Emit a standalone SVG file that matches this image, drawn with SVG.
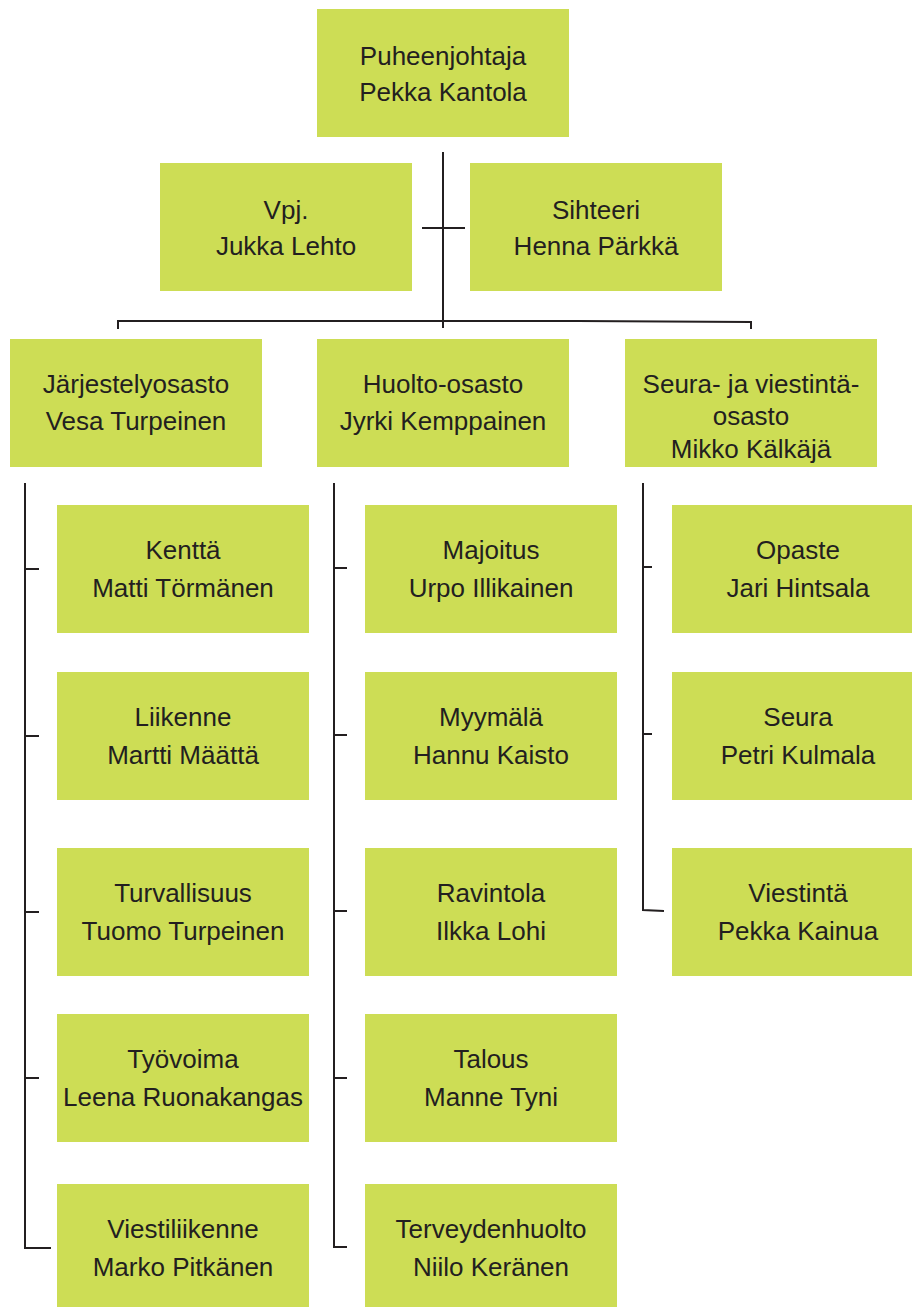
<svg xmlns="http://www.w3.org/2000/svg" width="912" height="1307" viewBox="0 0 912 1307">
<style>
.box{fill:#cddd55}
.t{font-family:"Liberation Sans",Arial,sans-serif;font-size:26px;fill:#231f20;text-anchor:middle}
.ln{stroke:#231f20;stroke-width:2;fill:none}
</style>
<rect width="912" height="1307" fill="#ffffff"/>
<g id="connectors">
<path class="ln" d="M443 152V328M422 228H465M118 329V321H443M443 321H577L751 322V329"/>
<path class="ln" d="M25 483V1248H51M25 569H39M25 736H39M25 912H39M25 1078H39"/>
<path class="ln" d="M334 483V1247H347M334 568H347M334 735H347M334 911H347M334 1078H347"/>
<path class="ln" d="M643 483V910L664 911M643 567H652M643 734H652"/>
</g>
<g id="n-puheenjohtaja"><rect class="box" x="317" y="9" width="252" height="128"/><text class="t" x="443" y="65">Puheenjohtaja</text><text class="t" x="443" y="101">Pekka Kantola</text></g>
<g id="n-vpj"><rect class="box" x="160" y="163" width="252" height="128"/><text class="t" x="286" y="219">Vpj.</text><text class="t" x="286" y="255">Jukka Lehto</text></g>
<g id="n-sihteeri"><rect class="box" x="470" y="163" width="252" height="128"/><text class="t" x="596" y="219">Sihteeri</text><text class="t" x="596" y="255">Henna Pärkkä</text></g>
<g id="n-jarjestely"><rect class="box" x="10" y="339" width="252" height="128"/><text class="t" x="136" y="393">Järjestelyosasto</text><text class="t" x="136" y="430">Vesa Turpeinen</text></g>
<g id="n-huolto"><rect class="box" x="317" y="339" width="252" height="128"/><text class="t" x="443" y="393">Huolto-osasto</text><text class="t" x="443" y="430">Jyrki Kemppainen</text></g>
<g id="n-seura"><rect class="box" x="625" y="339" width="252" height="128"/><text class="t" x="751" y="393">Seura- ja viestintä-</text><text class="t" x="751" y="425">osasto</text><text class="t" x="751" y="458">Mikko Kälkäjä</text></g>
<g id="n-kentta"><rect class="box" x="57" y="505" width="252" height="128"/><text class="t" x="183" y="559">Kenttä</text><text class="t" x="183" y="597">Matti Törmänen</text></g>
<g id="n-liikenne"><rect class="box" x="57" y="672" width="252" height="128"/><text class="t" x="183" y="726">Liikenne</text><text class="t" x="183" y="764">Martti Määttä</text></g>
<g id="n-turvallisuus"><rect class="box" x="57" y="848" width="252" height="128"/><text class="t" x="183" y="902">Turvallisuus</text><text class="t" x="183" y="940">Tuomo Turpeinen</text></g>
<g id="n-tyovoima"><rect class="box" x="57" y="1014" width="252" height="128"/><text class="t" x="183" y="1068">Työvoima</text><text class="t" x="183" y="1106">Leena Ruonakangas</text></g>
<g id="n-viestiliikenne"><rect class="box" x="57" y="1184" width="252" height="128"/><text class="t" x="183" y="1238">Viestiliikenne</text><text class="t" x="183" y="1276">Marko Pitkänen</text></g>
<g id="n-majoitus"><rect class="box" x="365" y="505" width="252" height="128"/><text class="t" x="491" y="559">Majoitus</text><text class="t" x="491" y="597">Urpo Illikainen</text></g>
<g id="n-myymala"><rect class="box" x="365" y="672" width="252" height="128"/><text class="t" x="491" y="726">Myymälä</text><text class="t" x="491" y="764">Hannu Kaisto</text></g>
<g id="n-ravintola"><rect class="box" x="365" y="848" width="252" height="128"/><text class="t" x="491" y="902">Ravintola</text><text class="t" x="491" y="940">Ilkka Lohi</text></g>
<g id="n-talous"><rect class="box" x="365" y="1014" width="252" height="128"/><text class="t" x="491" y="1068">Talous</text><text class="t" x="491" y="1106">Manne Tyni</text></g>
<g id="n-terveydenhuolto"><rect class="box" x="365" y="1184" width="252" height="128"/><text class="t" x="491" y="1238">Terveydenhuolto</text><text class="t" x="491" y="1276">Niilo Keränen</text></g>
<g id="n-opaste"><rect class="box" x="672" y="505" width="252" height="128"/><text class="t" x="798" y="559">Opaste</text><text class="t" x="798" y="597">Jari Hintsala</text></g>
<g id="n-seura2"><rect class="box" x="672" y="672" width="252" height="128"/><text class="t" x="798" y="726">Seura</text><text class="t" x="798" y="764">Petri Kulmala</text></g>
<g id="n-viestinta"><rect class="box" x="672" y="848" width="252" height="128"/><text class="t" x="798" y="902">Viestintä</text><text class="t" x="798" y="940">Pekka Kainua</text></g>
</svg>
